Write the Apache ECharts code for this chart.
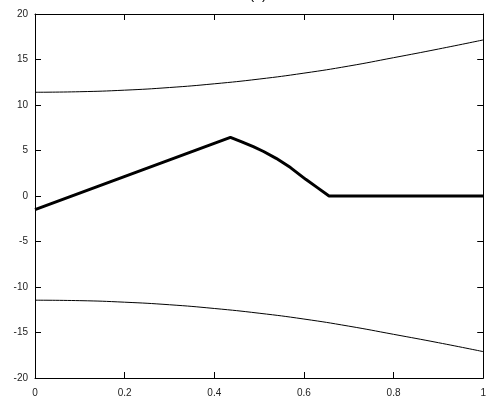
<!DOCTYPE html>
<html><head><meta charset="utf-8">
<script src="https://cdn.jsdelivr.net/npm/echarts@6/dist/echarts.min.js"></script>
<style>html,body{margin:0;padding:0;background:#fff}#c{width:489px;height:403px}</style>
</head><body><div id="c"></div>
<script>
const titleText = "(a)";
const upperX = [0, 0.1, 0.2, 0.3, 0.4, 0.5, 0.6, 0.7, 0.8, 0.9, 1.0];
const upperY = [11.4, 11.46, 11.63, 11.92, 12.33, 12.85, 13.5, 14.28, 15.2, 16.15, 17.15];
const lowerX = [0, 0.1, 0.2, 0.3, 0.4, 0.5, 0.6, 0.7, 0.8, 0.9, 1.0];
const lowerY = [-11.45, -11.5, -11.67, -11.95, -12.36, -12.88, -13.52, -14.3, -15.2, -16.12, -17.1];
const midX = [0, 0.436, 0.46, 0.487, 0.51, 0.538, 0.57, 0.604, 0.63, 0.656, 0.8, 1.0];
const midY = [-1.5, 6.45, 5.98, 5.42, 4.89, 4.14, 3.12, 1.83, 0.92, 0, 0, 0];
const xTicks = [0, 0.2, 0.4, 0.6, 0.8, 1];
const yTicks = [-20, -15, -10, -5, 0, 5, 10, 15, 20];
const xMin = 0, xMax = 1, yMin = -20, yMax = 20;

const pair = (xs, ys) => xs.map((x, i) => [x, ys[i]]);
const lab = () => ({fontSize: 10, color: '#222', fontFamily: 'Liberation Sans, Arial, sans-serif'});
const line = () => ({show: true, onZero: false, lineStyle: {color: '#000', width: 1}});
const tick = () => ({show: true, inside: true, length: 6, lineStyle: {color: '#000', width: 1}});
const chart = echarts.init(document.getElementById('c'), null, {renderer: 'canvas'});
chart.setOption({
  animation: false,
  title: {text: titleText, left: 253, top: -17, textAlign: 'center',
    textStyle: {fontSize: 14, fontWeight: 'normal', color: '#000', fontFamily: 'Liberation Sans, Arial, sans-serif'}},
  grid: {left: 35, top: 14, width: 455, height: 364, show: false},
  xAxis: [
    {type: 'value', min: xMin, max: xMax, interval: 0.2, position: 'bottom',
      axisLine: line(), axisTick: tick(), splitLine: {show: false},
      axisLabel: Object.assign({margin: 10, formatter: v => String(+v.toFixed(1))}, lab())},
    {type: 'value', min: xMin, max: xMax, interval: 0.2, position: 'top',
      axisLine: line(), axisTick: tick(), splitLine: {show: false}, axisLabel: {show: false}}
  ],
  yAxis: [
    {type: 'value', min: yMin, max: yMax, interval: 5, position: 'left',
      axisLine: line(), axisTick: tick(), splitLine: {show: false},
      axisLabel: Object.assign({margin: 7}, lab())},
    {type: 'value', min: yMin, max: yMax, interval: 5, position: 'right',
      axisLine: line(), axisTick: tick(), splitLine: {show: false}, axisLabel: {show: false}}
  ],
  series: [
    {type: 'line', data: pair(upperX, upperY), smooth: true, showSymbol: false, lineStyle: {color: '#000', width: 1}},
    {type: 'line', data: pair(lowerX, lowerY), smooth: true, showSymbol: false, lineStyle: {color: '#000', width: 1}},
    {type: 'line', data: pair(midX, midY), smooth: false, showSymbol: false, lineStyle: {color: '#000', width: 3}}
  ]
});
</script></body></html>
